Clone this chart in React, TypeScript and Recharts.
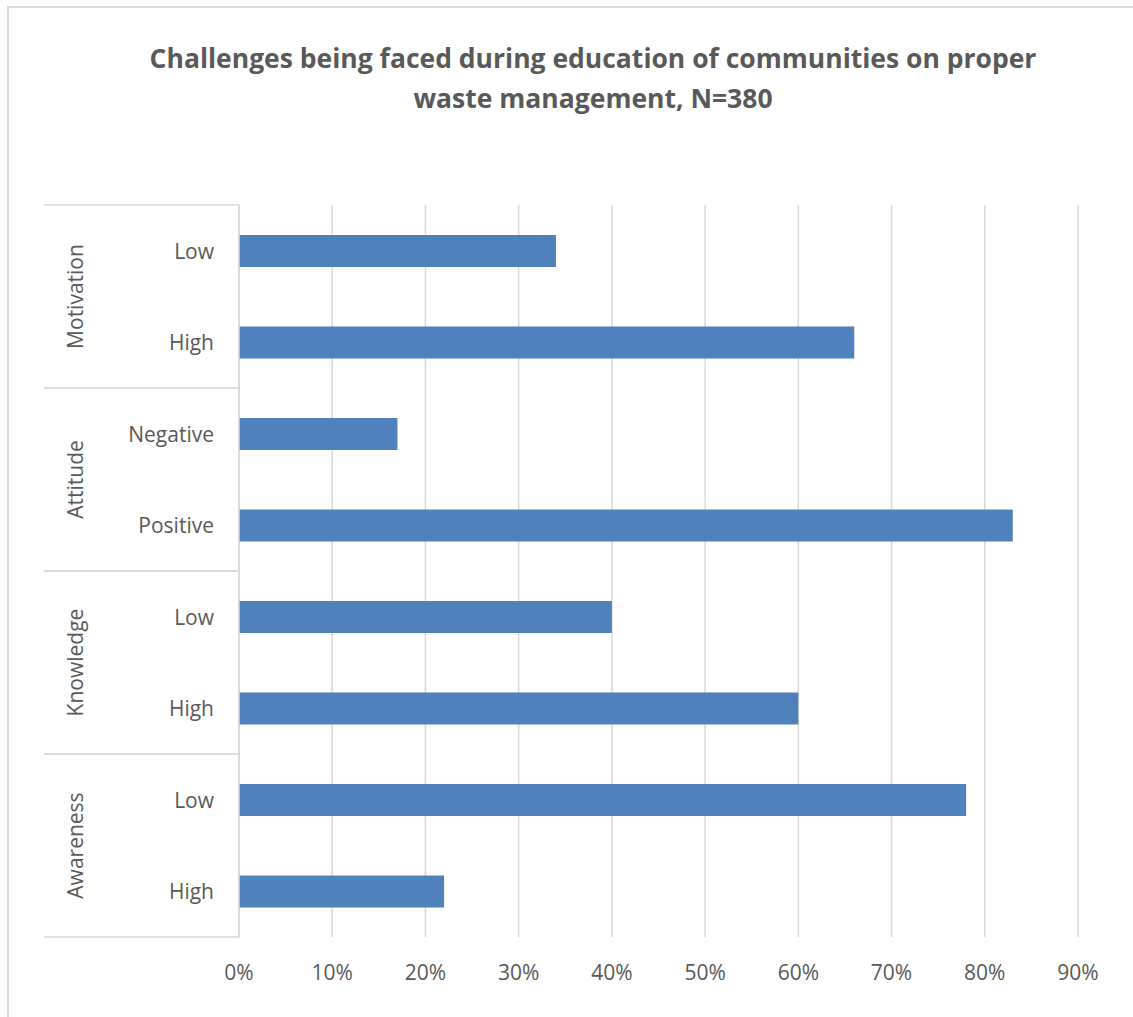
import { Bar, BarChart, CartesianGrid, XAxis, YAxis } from "recharts";

const groups = ["Motivation", "Motivation", "Attitude", "Attitude", "Knowledge", "Knowledge", "Awareness", "Awareness"];
const levels = ["Low", "High", "Negative", "Positive", "Low", "High", "Low", "High"];
const shares = [34, 66, 17, 83, 40, 60, 78, 22];
const xTicks = [0, 10, 20, 30, 40, 50, 60, 70, 80, 90];

const data = levels.map((level, i) => ({
	key: groups[i] + "|" + level,
	group: groups[i],
	level,
	value: shares[i],
}));

const FONT = "'Open Sans', sans-serif";
const GRID = "#d9d9d9";
const TEXT = "#595959";

const CategoryTick = (props: any) => {
	const { x, y, payload, index } = props;
	const half = payload && payload.offset ? payload.offset : 45.75;
	const row = data[index] || data[0];
	const first = index % 2 === 0;
	return (
		<g>
			<text x={x} y={y} textAnchor="end" dominantBaseline="central" fill={TEXT} fontSize={21} fontFamily={FONT}>
				{row.level}
			</text>
			{first && (
				<>
					<line x1={x - 170} x2={x + 25} y1={y - half} y2={y - half} stroke={GRID} strokeWidth={1.5} />
					<text
						x={x - 139}
						y={y + half}
						textAnchor="middle"
						dominantBaseline="central"
						fill={TEXT}
						fontSize={21}
						fontFamily={FONT}
						transform={`rotate(-90 ${x - 139} ${y + half})`}
					>
						{row.group}
					</text>
				</>
			)}
			{!first && <line x1={x - 170} x2={x + 25} y1={y + half} y2={y + half} stroke={GRID} strokeWidth={1.5} />}
		</g>
	);
};

export default function App() {
	return (
		<div style={{ position: "absolute", left: 0, top: 0, width: 1133, height: 1017, background: "#fff" }}>
			<div
				style={{
					position: "absolute",
					left: 7,
					top: 6,
					width: 1140,
					height: 1030,
					borderTop: "2px solid #d9d9d9",
					borderLeft: "2px solid #d9d9d9",
				}}
			/>
			<div
				style={{
					position: "absolute",
					left: 43,
					width: 1100,
					top: 38,
					textAlign: "center",
					fontFamily: FONT,
					fontWeight: 700,
					fontSize: 26.5,
					lineHeight: "40px",
					color: TEXT,
				}}
			>
				Challenges being faced during education of communities on proper
				<br />
				waste management, N=380
			</div>
			<div style={{ position: "absolute", left: 0, top: 0 }}>
				<BarChart
					width={1133}
					height={1017}
					data={data}
					layout="vertical"
					margin={{ top: 205, right: 55, left: 44, bottom: 0 }}
				>
					<CartesianGrid horizontal={false} stroke={GRID} strokeWidth={1.5} />
					<XAxis
						type="number"
						domain={[0, 90]}
						ticks={xTicks}
						tickFormatter={(v: number) => v + "%"}
						axisLine={false}
						tickLine={false}
						tickSize={0}
						tickMargin={28}
						height={80}
						tick={{ fill: TEXT, fontSize: 21, fontFamily: FONT }}
						interval={0}
					/>
					<YAxis
						type="category"
						dataKey="key"
						width={195}
						axisLine={{ stroke: GRID, strokeWidth: 1.5 }}
						tickLine={false}
						tickSize={0}
						tickMargin={25}
						tick={<CategoryTick />}
						interval={0}
					/>
					<Bar dataKey="value" fill="#4F81BD" barSize={32} isAnimationActive={false} />
				</BarChart>
			</div>
		</div>
	);
}
